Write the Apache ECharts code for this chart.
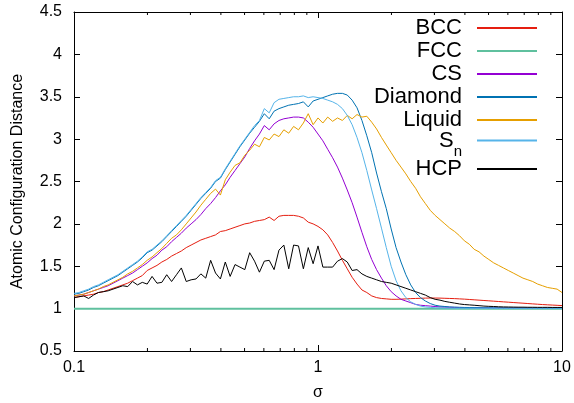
<!DOCTYPE html>
<html>
<head>
<meta charset="utf-8">
<script src="https://cdn.jsdelivr.net/npm/echarts@6/dist/echarts.min.js"></script>
<style>
  html, body { margin: 0; padding: 0; background: #fff; }
  #chart { width: 574px; height: 403px; }
</style>
</head>
<body>
<div id="chart"></div>
<script>
// Smoothing width sigma, sampled at 50 points per decade
const sigma = [
  0.1, 0.1047, 0.1096, 0.1148, 0.1202, 0.1259, 0.1318, 0.138, 0.1445, 0.1514,
  0.1585, 0.166, 0.1738, 0.182, 0.1905, 0.1995, 0.2089, 0.2188, 0.2291, 0.2399,
  0.2512, 0.263, 0.2754, 0.2884, 0.302, 0.3162, 0.3311, 0.3467, 0.3631, 0.3802,
  0.3981, 0.4169, 0.4365, 0.4571, 0.4786, 0.5012, 0.5248, 0.5495, 0.5754, 0.6026,
  0.631, 0.6607, 0.6918, 0.7244, 0.7586, 0.7943, 0.8318, 0.871, 0.912, 0.955,
  1, 1.047, 1.096, 1.148, 1.202, 1.259, 1.318, 1.38, 1.445, 1.514,
  1.585, 1.66, 1.738, 1.82, 1.905, 1.995, 2.089, 2.188, 2.291, 2.399,
  2.512, 2.63, 2.754, 2.884, 3.02, 3.162, 3.311, 3.467, 3.631, 3.802,
  3.981, 4.169, 4.365, 4.571, 4.786, 5.012, 5.248, 5.495, 5.754, 6.026,
  6.31, 6.607, 6.918, 7.244, 7.586, 7.943, 8.318, 8.71, 9.12, 9.55,
  10
];

const bcc = [
  1.13, 1.14, 1.15, 1.16, 1.17, 1.19, 1.20, 1.22, 1.24, 1.26,
  1.28, 1.30, 1.33, 1.36, 1.39, 1.45, 1.48, 1.51, 1.55, 1.58,
  1.62, 1.65, 1.68, 1.72, 1.75, 1.78, 1.81, 1.83, 1.85, 1.87,
  1.91, 1.92, 1.94, 1.96, 1.98, 2.00, 2.01, 2.03, 2.04, 2.05,
  2.08, 2.04, 2.09, 2.10, 2.10, 2.10, 2.09, 2.07, 2.02, 2.00,
  1.97, 1.93, 1.87, 1.78, 1.68, 1.57, 1.47, 1.37, 1.29, 1.22,
  1.19, 1.15, 1.13, 1.12, 1.115, 1.11, 1.11, 1.112, 1.115, 1.118,
  1.12, 1.122, 1.124, 1.125, 1.125, 1.124, 1.122, 1.12, 1.118, 1.115,
  1.112, 1.108, 1.104, 1.10, 1.096, 1.092, 1.088, 1.084, 1.08, 1.076,
  1.072, 1.068, 1.064, 1.06, 1.056, 1.052, 1.048, 1.045, 1.042, 1.039,
  1.036
];

// FCC is flat at 1 across the whole range
const fccSigma = [0.1, 10];
const fcc = [1, 1];

const cs = [
  1.15, 1.16, 1.17, 1.19, 1.21, 1.23, 1.25, 1.27, 1.30, 1.33,
  1.36, 1.39, 1.42, 1.46, 1.50, 1.54, 1.59, 1.63, 1.69, 1.73,
  1.79, 1.84, 1.89, 1.95, 2.00, 2.05, 2.11, 2.18, 2.24, 2.31,
  2.39, 2.46, 2.55, 2.63, 2.71, 2.79, 2.89, 2.98, 3.06, 3.16,
  3.11, 3.18, 3.22, 3.24, 3.25, 3.26, 3.26, 3.25, 3.20, 3.14,
  3.06, 2.98, 2.88, 2.78, 2.67, 2.54, 2.40, 2.25, 2.08, 1.90,
  1.73, 1.58, 1.46, 1.36, 1.27, 1.20, 1.15, 1.11, 1.09, 1.07,
  1.05, 1.04, 1.035, 1.03, 1.025, 1.02, 1.018, 1.016, 1.014, 1.013,
  1.012, 1.011, 1.01, 1.01, 1.009, 1.008, 1.008, 1.007, 1.007, 1.006,
  1.006, 1.006, 1.005, 1.005, 1.005, 1.004, 1.004, 1.004, 1.004, 1.003,
  1.003
];

const diamond = [
  1.17, 1.18, 1.20, 1.22, 1.25, 1.27, 1.30, 1.33, 1.36, 1.39,
  1.43, 1.47, 1.51, 1.55, 1.60, 1.66, 1.69, 1.74, 1.79, 1.85,
  1.91, 1.97, 2.03, 2.09, 2.16, 2.23, 2.30, 2.36, 2.42, 2.50,
  2.54, 2.64, 2.73, 2.82, 2.91, 2.99, 3.07, 3.14, 3.21, 3.30,
  3.24, 3.33, 3.36, 3.38, 3.40, 3.41, 3.42, 3.44, 3.38, 3.45,
  3.47, 3.49, 3.51, 3.53, 3.54, 3.54, 3.52, 3.46, 3.37, 3.22,
  3.04, 2.84, 2.60, 2.38, 2.18, 1.94, 1.72, 1.55, 1.40, 1.28,
  1.19, 1.13, 1.09, 1.06, 1.04, 1.03, 1.025, 1.02, 1.018, 1.016,
  1.014, 1.013, 1.012, 1.011, 1.01, 1.01, 1.009, 1.009, 1.008, 1.008,
  1.007, 1.007, 1.006, 1.006, 1.006, 1.005, 1.005, 1.005, 1.004, 1.004,
  1.004
];

const liquid = [
  1.15, 1.16, 1.17, 1.19, 1.21, 1.23, 1.26, 1.28, 1.31, 1.34,
  1.37, 1.41, 1.44, 1.48, 1.52, 1.57, 1.61, 1.66, 1.71, 1.77,
  1.83, 1.87, 1.93, 2.00, 2.07, 2.14, 2.22, 2.29, 2.36, 2.41,
  2.34, 2.52, 2.61, 2.69, 2.72, 2.81, 2.87, 2.94, 2.91, 3.02,
  2.99, 3.06, 3.03, 3.11, 3.07, 3.15, 3.11, 3.19, 3.30, 3.17,
  3.25, 3.19, 3.26, 3.21, 3.25, 3.22, 3.28, 3.24, 3.29, 3.26,
  3.27, 3.20, 3.12, 3.02, 2.93, 2.84, 2.75, 2.67, 2.59, 2.50,
  2.42, 2.32, 2.24, 2.16, 2.10, 2.05, 2.00, 1.95, 1.91, 1.86,
  1.80, 1.76, 1.70, 1.67, 1.62, 1.58, 1.54, 1.51, 1.48, 1.45,
  1.42, 1.39, 1.36, 1.34, 1.32, 1.29, 1.27, 1.25, 1.24, 1.23,
  1.19
];

const sn = [
  1.18, 1.19, 1.21, 1.23, 1.26, 1.28, 1.31, 1.34, 1.37, 1.40,
  1.44, 1.48, 1.52, 1.56, 1.61, 1.67, 1.70, 1.75, 1.80, 1.86,
  1.92, 1.98, 2.04, 2.10, 2.17, 2.24, 2.31, 2.37, 2.43, 2.51,
  2.55, 2.65, 2.74, 2.83, 2.92, 3.00, 3.08, 3.16, 3.22, 3.36,
  3.31, 3.43, 3.47, 3.48, 3.49, 3.50, 3.50, 3.51, 3.49, 3.50,
  3.49, 3.48, 3.46, 3.44, 3.41, 3.36, 3.28, 3.17, 3.02, 2.84,
  2.63, 2.40, 2.18, 1.95, 1.72, 1.50, 1.33, 1.21, 1.13, 1.08,
  1.05, 1.03, 1.02, 1.015, 1.01, 1.008, 1.007, 1.006, 1.005, 1.005,
  1.004, 1.004, 1.004, 1.004, 1.004, 1.004, 1.004, 1.003, 1.003, 1.003,
  1.003, 1.003, 1.003, 1.003, 1.003, 1.003, 1.003, 1.003, 1.003, 1.003,
  1.003
];

const hcp = [
  1.13, 1.14, 1.15, 1.12, 1.16, 1.19, 1.20, 1.21, 1.23, 1.25,
  1.27, 1.26, 1.32, 1.28, 1.31, 1.29, 1.38, 1.30, 1.31, 1.40,
  1.32, 1.40, 1.48, 1.32, 1.34, 1.35, 1.41, 1.36, 1.57, 1.42,
  1.35, 1.55, 1.38, 1.52, 1.49, 1.46, 1.66, 1.56, 1.43, 1.56,
  1.57, 1.46, 1.69, 1.75, 1.47, 1.75, 1.74, 1.47, 1.72, 1.53,
  1.74, 1.49, 1.49, 1.49, 1.56, 1.59, 1.55, 1.45, 1.46, 1.41,
  1.38, 1.36, 1.34, 1.32, 1.31, 1.30, 1.28, 1.26, 1.24, 1.22,
  1.20, 1.18, 1.16, 1.13, 1.11, 1.10, 1.085, 1.075, 1.065, 1.055,
  1.048, 1.044, 1.04, 1.035, 1.03, 1.027, 1.025, 1.022, 1.02, 1.019,
  1.018, 1.017, 1.017, 1.016, 1.016, 1.015, 1.015, 1.015, 1.014, 1.014,
  1.014
];

// Minor tick positions on the log axis (2..9 in each decade)
const minorTicks = [0.2, 0.3, 0.4, 0.5, 0.6, 0.7, 0.8, 0.9, 2, 3, 4, 5, 6, 7, 8, 9];

const FONT = 'Liberation Sans';
const chart = echarts.init(document.getElementById('chart'), null, { renderer: 'canvas' });

function pairs(xs, ys) {
  return xs.map((x, i) => [x, ys[i]]);
}

function curve(name, xs, ys, color, width) {
  return {
    name: name,
    type: 'line',
    data: pairs(xs, ys),
    symbol: 'none',
    showSymbol: false,
    lineStyle: { color: color, width: width },
    itemStyle: { color: color },
    emphasis: { disabled: true },
    animation: false
  };
}

const logLabel = v => (v < 1 ? v.toFixed(1) : v.toFixed(0));

const option = {
  backgroundColor: '#fff',
  animation: false,
  grid: { left: 74, right: 12, top: 12, bottom: 52, containLabel: false, outerBoundsMode: 'none' },
  legend: {
    orient: 'vertical',
    right: 36,
    top: 15,
    padding: 0,
    align: 'right',
    itemWidth: 60,
    itemHeight: 26,
    itemGap: -3,
    selectedMode: false,
    data: ['BCC', 'FCC', 'CS', 'Diamond', 'Liquid', 'Sn', 'HCP'],
    itemStyle: { opacity: 0, borderWidth: 0 },
    formatter: name => (name === 'Sn' ? '{s|S}{sub|n}' : name),
    textStyle: {
      fontFamily: FONT,
      fontSize: 22,
      lineHeight: 26,
      color: '#000',
      padding: [0, 10, 0, 0],
      rich: {
        s: { fontFamily: FONT, fontSize: 22, lineHeight: 21, verticalAlign: 'top', color: '#000' },
        sub: { fontFamily: FONT, fontSize: 15, lineHeight: 12, padding: [14, 0, 0, 0], verticalAlign: 'top', color: '#000' }
      }
    }
  },
  xAxis: [
    {
      type: 'log',
      logBase: 10,
      min: 0.1,
      max: 10,
      position: 'bottom',
      name: 'σ',
      nameLocation: 'middle',
      nameGap: 34,
      nameTextStyle: { fontFamily: FONT, fontSize: 16, color: '#000' },
      axisLine: { show: true, onZero: false, lineStyle: { color: '#000', width: 1 } },
      axisTick: { show: true, inside: true, length: 6, lineStyle: { color: '#000', width: 1 } },
      axisLabel: { fontFamily: FONT, fontSize: 16, color: '#000', margin: 9, formatter: logLabel, showMinLabel: true, showMaxLabel: true },
      splitLine: { show: false },
      minorTick: { show: false },
      minorSplitLine: { show: false }
    },
    {
      type: 'log',
      logBase: 10,
      min: 0.1,
      max: 10,
      position: 'top',
      axisLine: { show: true, onZero: false, lineStyle: { color: '#000', width: 1 } },
      axisTick: { show: true, inside: true, length: 6, lineStyle: { color: '#000', width: 1 } },
      axisLabel: { show: false },
      splitLine: { show: false }
    }
  ],
  yAxis: [
    {
      type: 'value',
      min: 0.5,
      max: 4.5,
      interval: 0.5,
      position: 'left',
      name: 'Atomic Configuration Distance',
      nameLocation: 'middle',
      nameRotate: 90,
      nameGap: 48,
      nameTextStyle: { fontFamily: FONT, fontSize: 16, color: '#000' },
      axisLine: { show: true, onZero: false, lineStyle: { color: '#000', width: 1 } },
      axisTick: { show: true, inside: true, length: 6, lineStyle: { color: '#000', width: 1 } },
      axisLabel: { fontFamily: FONT, fontSize: 16, color: '#000', margin: 12, showMinLabel: true, showMaxLabel: true },
      splitLine: { show: false }
    },
    {
      type: 'value',
      min: 0.5,
      max: 4.5,
      interval: 0.5,
      position: 'right',
      axisLine: { show: true, onZero: false, lineStyle: { color: '#000', width: 1 } },
      axisTick: { show: true, inside: true, length: 6, lineStyle: { color: '#000', width: 1 } },
      axisLabel: { show: false },
      splitLine: { show: false }
    }
  ],
  series: [
    {
      name: 'minor-ticks',
      type: 'custom',
      xAxisIndex: 0,
      yAxisIndex: 0,
      silent: true,
      clip: false,
      data: minorTicks.map(v => [v, 0.5]),
      encode: { x: 0, y: 1 },
      renderItem: function (params, api) {
        const v = api.value(0);
        const b = api.coord([v, 0.5]);
        const t = api.coord([v, 4.5]);
        return {
          type: 'group',
          children: [
            { type: 'line', shape: { x1: b[0], y1: b[1], x2: b[0], y2: b[1] - 3 }, style: { stroke: '#000', lineWidth: 1 } },
            { type: 'line', shape: { x1: t[0], y1: t[1], x2: t[0], y2: t[1] + 3 }, style: { stroke: '#000', lineWidth: 1 } }
          ]
        };
      }
    },
    curve('BCC', sigma, bcc, '#e51e10', 1),
    curve('FCC', fccSigma, fcc, '#5fc09e', 2),
    curve('CS', sigma, cs, '#9400d3', 1),
    curve('Diamond', sigma, diamond, '#0072b2', 1),
    curve('Liquid', sigma, liquid, '#e69f00', 1),
    curve('Sn', sigma, sn, '#56b4e9', 1),
    curve('HCP', sigma, hcp, '#000000', 1)
  ]
};

chart.setOption(option);
</script>
</body>
</html>
